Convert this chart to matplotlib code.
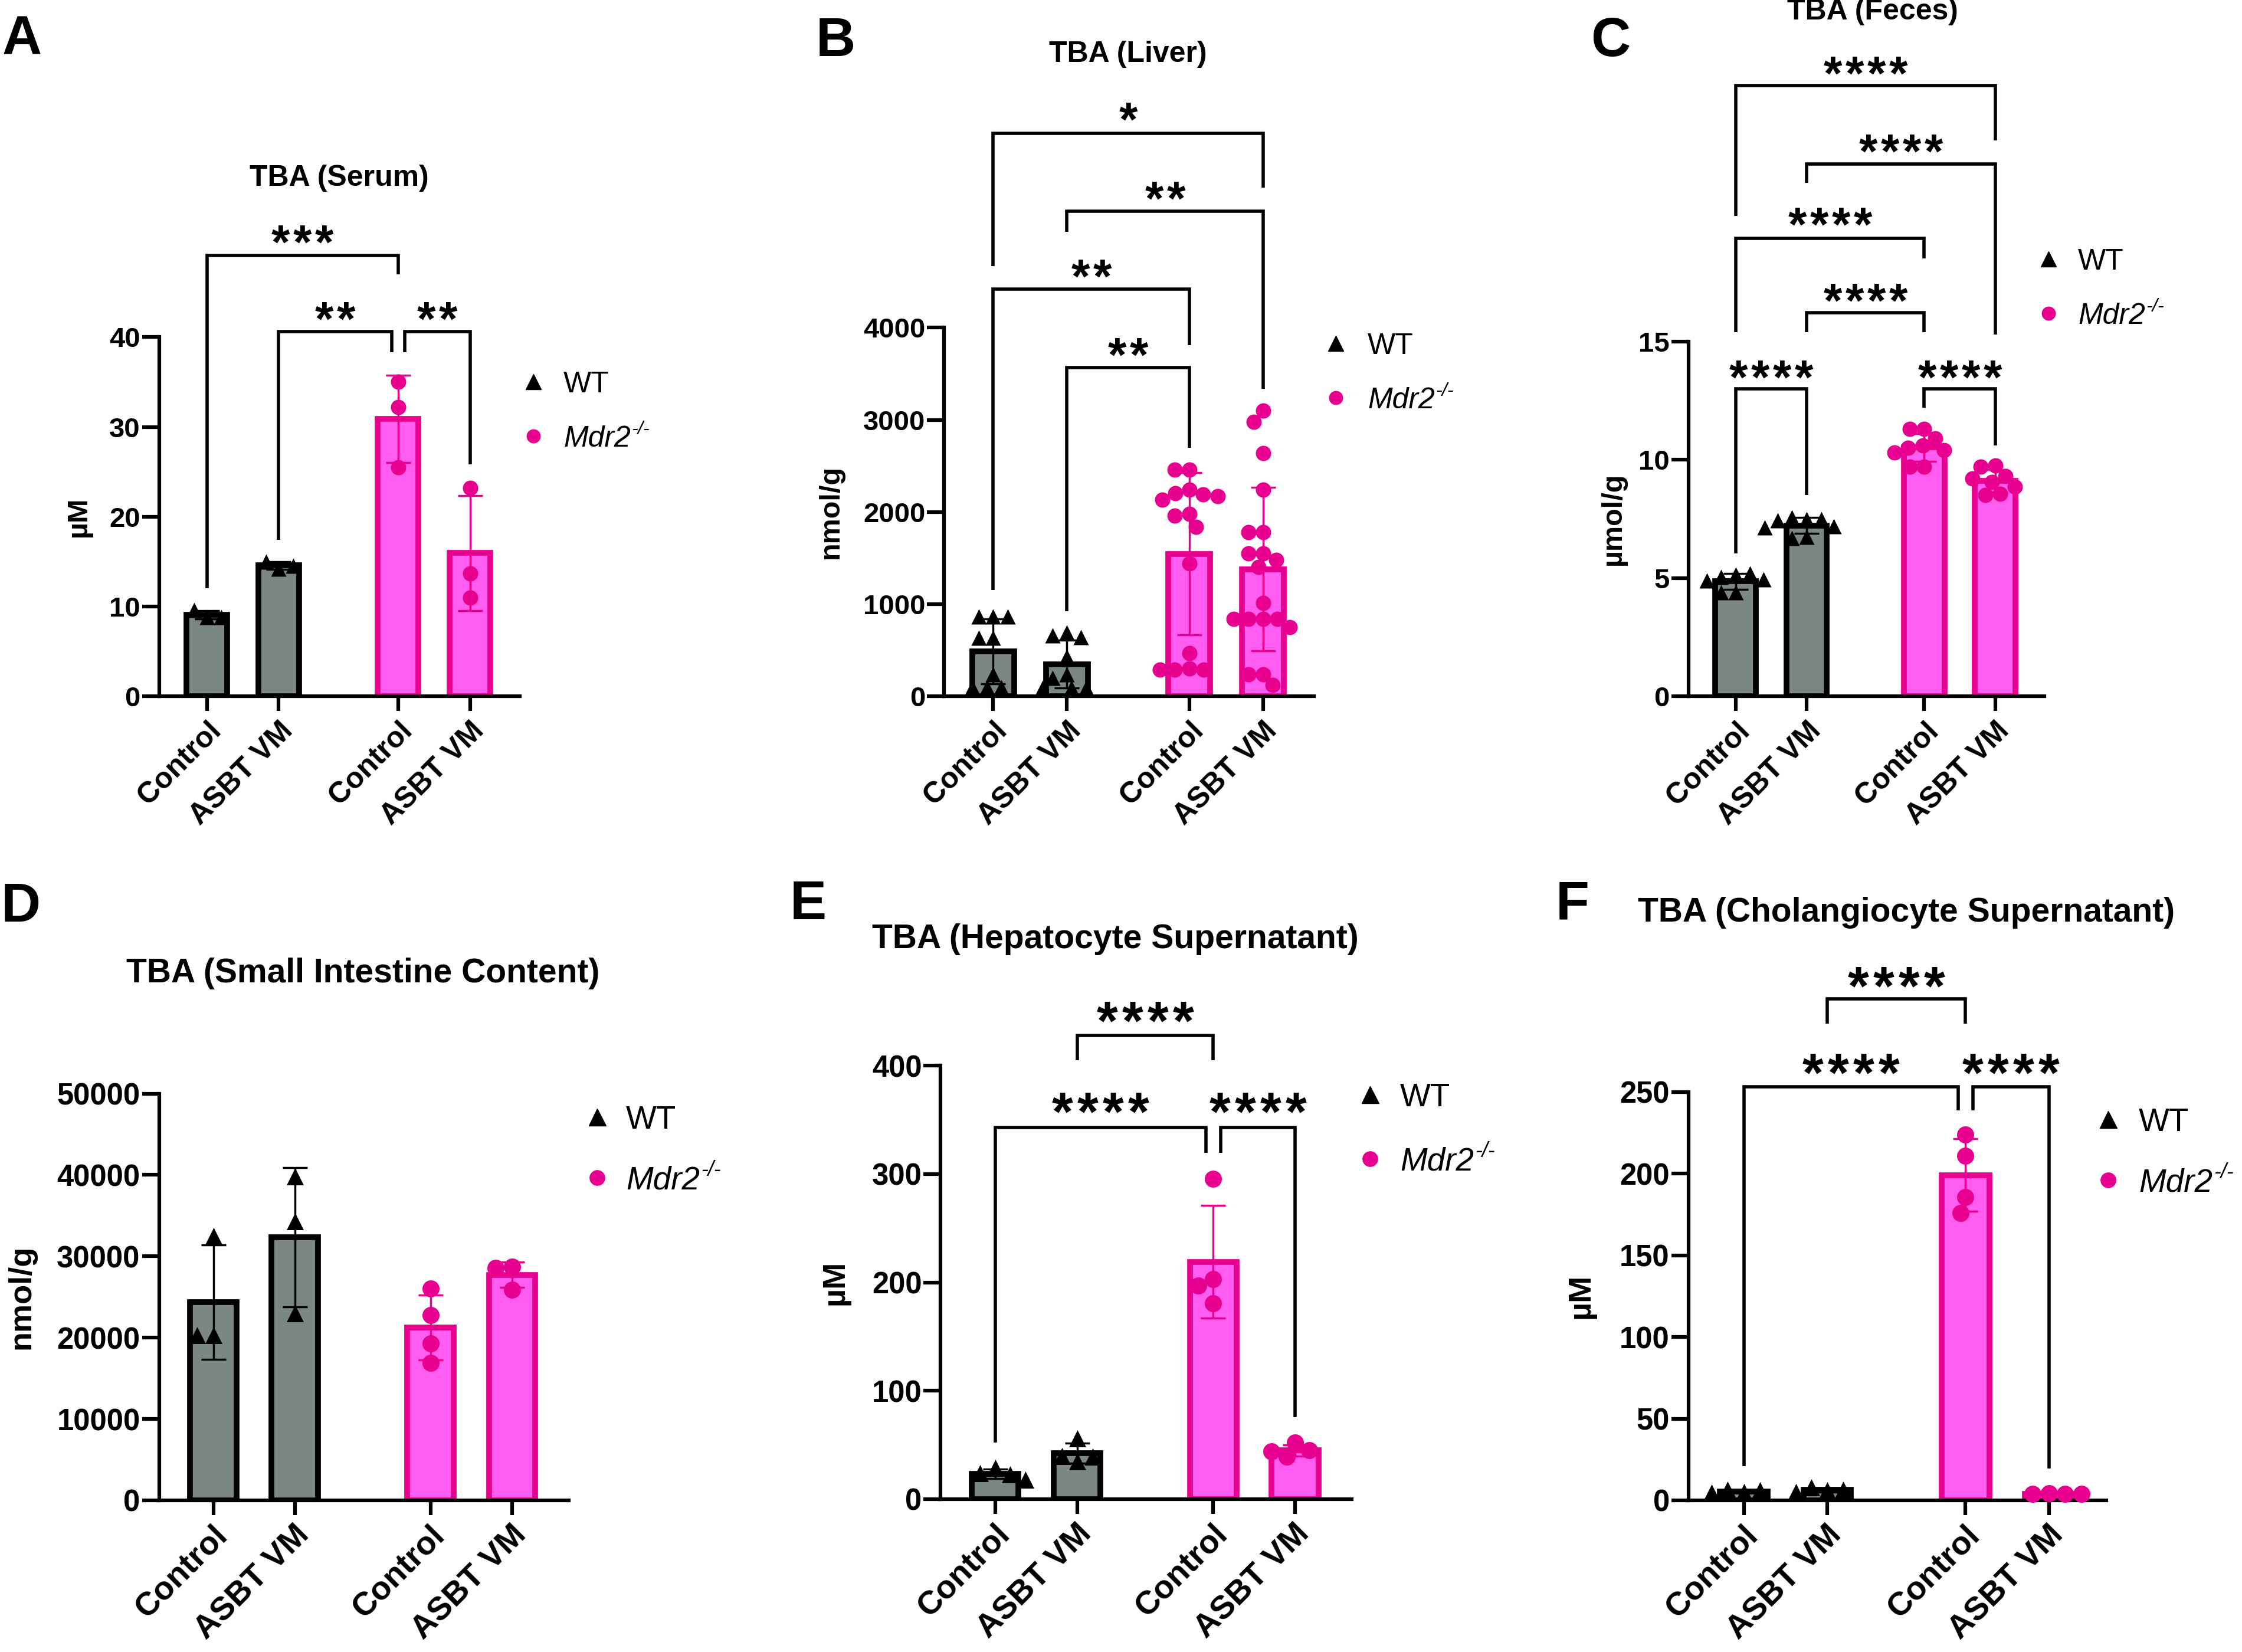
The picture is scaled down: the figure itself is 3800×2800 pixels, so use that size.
import numpy as np
import matplotlib
matplotlib.use('Agg')
import matplotlib.pyplot as plt
from matplotlib.lines import Line2D
from matplotlib.transforms import ScaledTranslation

plt.rcParams['font.family'] = ['Liberation Sans', 'DejaVu Sans']
plt.rcParams['font.weight'] = 'bold'

W, H = 3800, 2800

GRAY = '#7b8784'
PINK_FILL = '#ff5cf2'
PINK = '#e8008f'

CATEGORIES = ['Control', 'ASBT VM', 'Control', 'ASBT VM']
XPOS = [0, 1, 2.66, 3.66]

# A  TBA serum, uM
serum_wt_ctrl = [8.8, 9.6, 8.8]
serum_wt_asbt = [14.2, 15.0, 14.5]
serum_mdr_ctrl = [35.0, 32.2, 25.5]
serum_mdr_asbt = [23.2, 13.7, 11.0]

# B  TBA liver, nmol/g
liver_wt_ctrl = [866, 866, 866, 636, 636, 237, 94, 94, 94]
liver_wt_asbt = [690, 660, 640, 430, 240, 200, 90, 90, 90]
liver_mdr_ctrl = [2460, 2460, 2240, 2200, 2190, 2170, 2130, 1980, 1960, 1840,
                  1440, 470, 300, 290, 290, 290]
liver_mdr_asbt = [3100, 2980, 2640, 2240, 1780, 1780, 1550, 1550, 1480, 1400,
                  1010, 840, 840, 840, 840, 750, 240, 240, 120]

# C  TBA feces, umol/g
feces_wt_ctrl = [5.15, 5.05, 5.2, 4.95, 4.9, 4.4, 4.4]
feces_wt_asbt = [7.5, 7.55, 7.5, 7.45, 7.2, 7.15, 6.75, 6.7]
feces_mdr_ctrl = [11.3, 11.3, 10.9, 10.6, 10.5, 10.4, 10.3, 9.7, 9.7]
feces_mdr_asbt = [9.75, 9.7, 9.3, 9.2, 9.05, 8.85, 8.55, 8.5]

# D  TBA small intestine content, nmol/g
si_wt_ctrl = [32500, 20300, 20300]
si_wt_asbt = [39800, 34300, 23000]
si_mdr_ctrl = [26000, 22800, 19300, 16900]
si_mdr_asbt = [28700, 28600, 25900]

# E  TBA hepatocyte supernatant, uM
hep_wt_ctrl = [29, 24, 23, 18]
hep_wt_asbt = [56, 35, 40, 39]
hep_mdr_ctrl = [295.5, 203, 197, 181]
hep_mdr_asbt = [52, 39, 45, 44]

# F  TBA cholangiocyte supernatant, uM
chol_wt_ctrl = [5.0, 6.5, 6.0, 4.5]
chol_wt_asbt = [6.0, 8.0, 6.5, 5.0]
chol_mdr_ctrl = [224, 211, 185.5, 176]
chol_mdr_asbt = [4.2, 4.0, 3.9, 4.1]

# significance brackets:
# (left bar, right bar, bar height, left leg end, right leg end, stars, stars height, left shift, right shift)
serum_sig = [(0, 2, 49.1, 12.0, 47.0, '***', 51.8, 0, 0),
             (1, 2, 40.6, 17.4, 38.3, '**', 43.3, 0, -0.09),
             (2, 3, 40.6, 38.3, 25.8, '**', 43.3, 0.09, 0)]
liver_sig = [(0, 3, 6112, 4666, 5523, '*', 6380, 0, 0),
             (1, 3, 5267, 5037, 3334, '**', 5523, 0, 0),
             (0, 2, 4422, 1152, 3808, '**', 4678, 0, 0),
             (1, 2, 3565, 922, 2694, '**', 3827, 0, 0)]
feces_sig = [(0, 3, 25.8, 20.3, 23.5, '****', 26.8, 0, 0),
             (1, 3, 22.5, 21.7, 15.3, '****', 23.5, 0, 0),
             (0, 2, 19.35, 15.4, 18.5, '****', 20.4, 0, 0),
             (1, 2, 16.2, 15.4, 15.4, '****', 17.2, 0, 0),
             (0, 1, 13.0, 6.05, 8.5, '****', 13.95, 0, 0),
             (2, 3, 13.0, 12.2, 10.6, '****', 13.95, 0, 0)]
hep_sig = [(1, 2, 427.7, 404.9, 404.9, '****', 453, 0, 0),
           (0, 2, 343, 52.5, 319.7, '****', 369, 0, -0.09),
           (2, 3, 343, 319.7, 75.8, '****', 369, 0.09, 0)]
chol_sig = [(1, 2, 307.1, 292, 292, '****', 322.6, 0, 0),
            (0, 2, 253.2, 21, 238.8, '****', 269.4, 0, -0.09),
            (2, 3, 253.2, 238.8, 19.5, '****', 269.4, 0.09, 0)]

# font sizes in pt, star pitch and dot diameter in px
TOP = dict(tick=34, cat=36, ylab=35, title=36, leg=36, star=58, pitch=37, dot=26)
BOTTOM = dict(tick=36.5, cat=40, ylab=39, title=41, leg=39.5, star=66, pitch=43, dot=29)

panels = [
    dict(letter='A', title='TBA (Serum)', ylabel='µM', ymax=40, step=10,
         groups=[serum_wt_ctrl, serum_wt_asbt, serum_mdr_ctrl, serum_mdr_asbt], sig=serum_sig,
         box=(269.5, 1180, 880.6, 571.4), title_xy=(575, 302), letter_xy=(37, 67),
         ylab_x=133, leg=(904, 647, 739, 955), fs=TOP),
    dict(letter='B', title='TBA (Liver)', ylabel='nmol/g', ymax=4000, step=1000,
         groups=[liver_wt_ctrl, liver_wt_asbt, liver_mdr_ctrl, liver_mdr_asbt], sig=liver_sig,
         box=(1600.2, 1180, 2227, 555.4), title_xy=(1912, 92), letter_xy=(1416, 71),
         ylab_x=1408, leg=(2264, 582, 674, 2318), fs=TOP),
    dict(letter='C', title='TBA (Feces)', ylabel='µmol/g', ymax=15, step=5,
         groups=[feces_wt_ctrl, feces_wt_asbt, feces_mdr_ctrl, feces_mdr_asbt], sig=feces_sig,
         box=(2861.7, 1180.4, 3464.6, 578.6), title_xy=(3174, 20), letter_xy=(2730, 71),
         ylab_x=2734, leg=(3472, 439, 531, 3522), fs=TOP),
    dict(letter='D', title='TBA (Small Intestine Content)', ylabel='nmol/g', ymax=50000, step=10000,
         groups=[si_wt_ctrl, si_wt_asbt, si_mdr_ctrl, si_mdr_asbt], sig=[],
         box=(269.5, 2542.9, 963.5, 1853.6), title_xy=(615, 1650), letter_xy=(35, 1538),
         ylab_x=36, leg=(1011.6, 1893, 1996, 1061), fs=BOTTOM),
    dict(letter='E', title='TBA (Hepatocyte Supernatant)', ylabel='µM', ymax=400, step=100,
         groups=[hep_wt_ctrl, hep_wt_asbt, hep_mdr_ctrl, hep_mdr_asbt], sig=hep_sig,
         box=(1594.4, 2541, 2290.9, 1806.3), title_xy=(1890, 1592), letter_xy=(1370, 1534),
         ylab_x=1416, leg=(2321.6, 1855, 1964, 2373), fs=BOTTOM),
    dict(letter='F', title='TBA (Cholangiocyte Supernatant)', ylabel='µM', ymax=250, step=50,
         groups=[chol_wt_ctrl, chol_wt_asbt, chol_mdr_ctrl, chol_mdr_asbt], sig=chol_sig,
         box=(2861.7, 2542.9, 3570.2, 1850.9), title_xy=(3231, 1547), letter_xy=(2665, 1534),
         ylab_x=2680, leg=(3573.2, 1897, 2000, 3625), fs=BOTTOM),
]

fig = plt.figure(figsize=(W / 100, H / 100), dpi=100)
renderer = fig.canvas.get_renderer()


def fx(x):
    return x / W


def fy(y):
    return 1 - y / H


def swarm(ax, xc, vals, d):
    # simple beeswarm in pixel space so dots sit side by side
    pix = ax.transData.transform(np.column_stack([np.full(len(vals), xc), vals]))
    cx = pix[0, 0]
    placed = []
    xs = []
    for y in pix[:, 1]:
        cands = [0.0]
        for px, py in placed:
            dy = abs(py - y)
            if dy < d:
                dx = np.sqrt(d * d - dy * dy)
                cands += [px - dx, px + dx]
        cands.sort(key=lambda c: (abs(c), c))
        for c in cands:
            if all((c - px) ** 2 + (y - py) ** 2 >= d * d - 1e-6 for px, py in placed):
                break
        placed.append((c, y))
        xs.append(cx + c)
    back = ax.transData.inverted().transform(np.column_stack([xs, pix[:, 1]]))
    return back[:, 0]


def draw_panel(p):
    fs = p['fs']
    x0, y0, x1, y1 = p['box']
    ax = fig.add_axes([fx(x0), fy(y0), fx(x1 - x0), (y0 - y1) / H])
    ax.set_xlim(-0.665, 4.35)
    ax.set_ylim(0, p['ymax'])
    ax.set_yticks(np.arange(0, p['ymax'] + p['step'] / 2, p['step']))
    ax.set_xticks(XPOS)
    ax.set_xticklabels([])
    # category names, rotated, placed under each tick
    shift = ScaledTranslation(12 / 72, -37 / 72, fig.dpi_scale_trans)
    for xp, name in zip(XPOS, CATEGORIES):
        ax.text(xp, 0, name, transform=ax.get_xaxis_transform() + shift, rotation=45,
                ha='right', va='center', rotation_mode='anchor',
                fontsize=fs['cat'], fontweight='bold')
    for s in ['top', 'right']:
        ax.spines[s].set_visible(False)
    for s in ['left', 'bottom']:
        ax.spines[s].set_linewidth(4.5)
    ax.tick_params(axis='y', length=21, width=4.5, labelsize=fs['tick'], pad=2)
    ax.tick_params(axis='x', length=18, width=4.5)
    for lab in ax.get_yticklabels():
        lab.set_fontweight('bold')

    dot_pt = fs['dot'] * 72 / 100
    for i, vals in enumerate(p['groups']):
        vals = np.array(vals, dtype=float)
        wt = i < 2
        fill = GRAY if wt else PINK_FILL
        edge = 'black' if wt else PINK
        mean = vals.mean()
        sd = vals.std(ddof=1)
        ax.bar(XPOS[i], mean, width=0.57, color=fill, edgecolor=edge, linewidth=7, zorder=2)
        ax.errorbar(XPOS[i], mean, yerr=sd, fmt='none', ecolor=edge, elinewidth=2.5,
                    capsize=15, capthick=2.5, zorder=3, clip_on=False)
        xs = swarm(ax, XPOS[i], vals, fs['dot'] * 0.95)
        ax.scatter(xs, vals, s=dot_pt ** 2, marker='^' if wt else 'o',
                   color='black' if wt else PINK, linewidths=0, zorder=4, clip_on=False)

    for (a, b, yb, yl, yr, stars, yt, sl, sr) in p['sig']:
        xa = XPOS[a] + sl
        xb = XPOS[b] + sr
        ax.plot([xa, xa, xb, xb], [yl, yb, yb, yr], color='black', lw=4,
                clip_on=False, solid_joinstyle='miter', solid_capstyle='butt', zorder=5)
        n = len(stars)
        for k in range(n):
            dx = (k - (n - 1) / 2) * fs['pitch'] * 0.72
            ax.annotate('*', xy=((xa + xb) / 2, yt),
                        xytext=(dx, -0.57 * fs['star']), textcoords='offset points',
                        ha='center', va='baseline', fontsize=fs['star'], fontweight='bold',
                        annotation_clip=False)

    fig.text(fx(p['title_xy'][0]), fy(p['title_xy'][1]), p['title'], ha='center', va='center',
             fontsize=fs['title'], fontweight='bold')
    fig.text(fx(p['letter_xy'][0]), fy(p['letter_xy'][1]), p['letter'], ha='center', va='center',
             fontsize=67, fontweight='bold')
    fig.text(fx(p['ylab_x']), fy((y0 + y1) / 2), p['ylabel'], rotation=90, ha='center', va='center',
             fontsize=fs['ylab'], fontweight='bold')

    # legend drawn by hand
    mx, wy, my, tx = p['leg']
    fig.add_artist(Line2D([fx(mx)], [fy(wy)], marker='^', color='black', markersize=dot_pt,
                          linestyle='none', transform=fig.transFigure))
    fig.add_artist(Line2D([fx(mx)], [fy(my)], marker='o', color=PINK, markeredgewidth=0,
                          markersize=dot_pt * 0.92, linestyle='none', transform=fig.transFigure))
    em = fs['leg'] * 100 / 72
    fig.text(fx(tx), fy(wy + 0.36 * em), 'WT', ha='left', va='baseline',
             fontsize=fs['leg'], fontweight='normal')
    base = my + 0.36 * em
    t = fig.text(fx(tx), fy(base), 'Mdr2', ha='left', va='baseline', style='italic',
                 fontsize=fs['leg'], fontweight='normal')
    bb = t.get_window_extent(renderer)
    fig.text((bb.x1 + 2) / W, fy(base - 0.42 * em), '-/-', ha='left', va='baseline',
             style='italic', fontsize=fs['leg'] * 0.65, fontweight='normal')


for p in panels:
    draw_panel(p)

fig.savefig('out.png', dpi=100, facecolor='white')
